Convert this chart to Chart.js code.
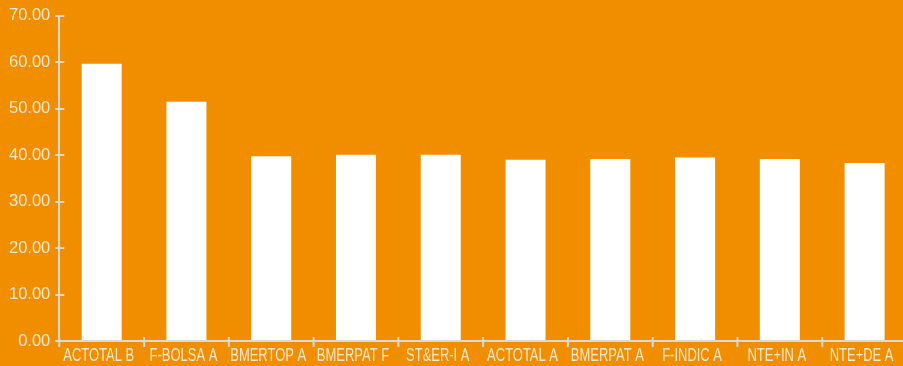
<!DOCTYPE html>
<html>
<head>
<meta charset="utf-8">
<script src="https://cdn.jsdelivr.net/npm/chart.js@4/dist/chart.umd.min.js"></script>
<style>
  html, body { margin: 0; padding: 0; background: #f18e00; overflow: hidden; }
  #wrap { width: 907px; height: 369px; margin-top: -3px; }
  canvas { display: block; }
</style>
</head>
<body>
<div id="wrap"><canvas id="c" width="907" height="369"></canvas></div>
<script>
// Fund share classes and their values
const categories = ['ACTOTAL B', 'F-BOLSA A', 'BMERTOP A', 'BMERPAT F', 'ST&ER-I A',
                    'ACTOTAL A', 'BMERPAT A', 'F-INDIC A', 'NTE+IN A', 'NTE+DE A'];
const values = [59.7, 51.5, 39.8, 40.1, 40.1, 39.0, 39.2, 39.5, 39.2, 38.3];

// Value axis range
const yMin = 0;
const yMax = 70;
const yStep = 10;

const AXIS_COLOR = '#d9d9d9';
const TEXT_COLOR = '#fce9d0';
const LABEL_FONT = '18px "Liberation Sans", Arial, sans-serif';
const LABEL_SQUEEZE = 0.72;   // condensed category labels

// Short tick marks that cross each axis line
const crossTicks = {
  id: 'crossTicks',
  afterDraw(chart) {
    const ctx = chart.ctx;
    const x = chart.scales.x, y = chart.scales.y;
    const area = chart.chartArea;
    ctx.save();
    ctx.strokeStyle = AXIS_COLOR;
    ctx.lineWidth = 2;
    ctx.beginPath();
    for (let i = 0; i <= categories.length; i++) {
      const px = x.getPixelForValue(i - 0.5);
      ctx.moveTo(px, area.bottom - 4);
      ctx.lineTo(px, area.bottom + 6);
    }
    y.ticks.forEach(t => {
      const py = Math.round(y.getPixelForValue(t.value));
      ctx.moveTo(area.left - 4, py);
      ctx.lineTo(area.left + 5, py);
    });
    ctx.stroke();
    ctx.restore();
  }
};

// Condensed category labels under the x axis
const condensedLabels = {
  id: 'condensedLabels',
  afterDraw(chart) {
    const ctx = chart.ctx;
    const x = chart.scales.x;
    const ly = chart.chartArea.bottom + 15;
    ctx.save();
    ctx.font = LABEL_FONT;
    ctx.fillStyle = TEXT_COLOR;
    ctx.textAlign = 'center';
    ctx.textBaseline = 'middle';
    categories.forEach((label, i) => {
      const cx = x.getPixelForValue(i) - 3;
      ctx.save();
      ctx.translate(cx, ly);
      ctx.scale(LABEL_SQUEEZE, 1);
      ctx.fillText(label, 0, 0);
      ctx.restore();
    });
    ctx.restore();
  }
};

new Chart(document.getElementById('c'), {
  type: 'bar',
  data: {
    labels: categories,
    datasets: [{
      data: values,
      backgroundColor: '#ffffff',
      borderWidth: 0,
      categoryPercentage: 1,
      barPercentage: 0.472
    }]
  },
  options: {
    responsive: false,
    animation: false,
    layout: { padding: { top: 0, left: 0, right: 0, bottom: 25 } },
    plugins: { legend: { display: false }, tooltip: { enabled: false } },
    scales: {
      x: {
        grid: { display: false, drawTicks: false },
        border: { display: true, color: AXIS_COLOR, width: 2, z: 1 },
        ticks: { display: false }
      },
      y: {
        min: yMin,
        max: yMax,
        grid: { display: false, drawTicks: false },
        border: { display: true, color: AXIS_COLOR, width: 2, z: 1 },
        ticks: {
          stepSize: yStep,
          color: TEXT_COLOR,
          padding: 9,
          font: { family: '"Liberation Sans", Arial, sans-serif', size: 16.5 },
          callback: v => Number(v).toFixed(2)
        }
      }
    }
  },
  plugins: [crossTicks, condensedLabels]
});
</script>
</body>
</html>
